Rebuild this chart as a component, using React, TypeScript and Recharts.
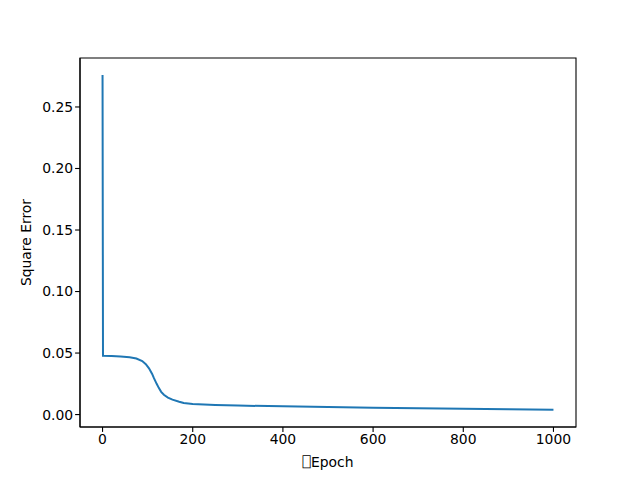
import React from 'react';
import { LineChart, Line, XAxis, YAxis, ReferenceArea } from 'recharts';

const epochs = [0, 1, 20, 40, 60, 75, 88, 96, 103, 110, 114, 120, 125, 130, 136, 145, 155, 170, 180, 200, 225, 250, 300, 400, 500, 600, 700, 800, 900, 1000];
const errors = [0.276, 0.0478, 0.0476, 0.0471, 0.0465, 0.0455, 0.0435, 0.041, 0.0376, 0.033, 0.0296, 0.025, 0.0215, 0.0185, 0.0161, 0.0138, 0.0121, 0.0104, 0.0094, 0.0086, 0.0081, 0.0077, 0.0073, 0.0067, 0.0062, 0.0056, 0.0051, 0.0047, 0.0043, 0.004];
const xTicks = [0, 200, 400, 600, 800, 1000];
const yTicks = [0, 0.05, 0.1, 0.15, 0.2, 0.25];
const xLabelMark = '\u2395';
const xLabel = 'Epoch';
const yLabel = 'Square Error';

const data = epochs.map((e, i) => ({ epoch: e, err: errors[i] }));

const FONT = 'DejaVu Sans, sans-serif';
const FS = 13.9;
const X_DOMAIN: [number, number] = [-50, 1050];
const Y_DOMAIN: [number, number] = [-0.0101, 0.2898];

const XLab = (props: any) => {
  const vb = props.viewBox || {};
  return (
    <text x={vb.x + vb.width / 2} y={467} textAnchor="middle" fontFamily={FONT} fontSize={FS} fill="#000">
      <tspan fontFamily="DejaVu Sans Mono" fill="#000">{xLabelMark}</tspan>
      <tspan>{xLabel}</tspan>
    </text>
  );
};

const YLab = (props: any) => {
  const vb = props.viewBox || {};
  const cy = vb.y + vb.height / 2;
  return (
    <text x={31} y={cy} transform={`rotate(-90 31 ${cy})`} textAnchor="middle" fontFamily={FONT} fontSize={FS} fill="#000">
      {yLabel}
    </text>
  );
};

export default function App() {
  return (
    <div style={{ position: 'absolute', left: 0, top: 0, width: 640, height: 480, background: '#fff' }}>
      <LineChart width={640} height={480} data={data} margin={{ top: 58, right: 64, bottom: 0, left: 0 }}>
        <XAxis
          dataKey="epoch"
          type="number"
          domain={X_DOMAIN}
          ticks={xTicks}
          height={53}
          tickSize={4.9}
          tickMargin={2}
          axisLine={{ stroke: '#000', strokeWidth: 1.1 }}
          tickLine={{ stroke: '#000', strokeWidth: 1.1 }}
          tick={{ fill: '#000', fontFamily: FONT, fontSize: FS }}
          allowDataOverflow
          label={<XLab />}
        />
        <YAxis
          type="number"
          domain={Y_DOMAIN}
          ticks={yTicks}
          width={80}
          tickSize={4.9}
          tickMargin={2}
          axisLine={{ stroke: '#000', strokeWidth: 1.1 }}
          tickLine={{ stroke: '#000', strokeWidth: 1.1 }}
          tick={{ fill: '#000', fontFamily: FONT, fontSize: FS }}
          tickFormatter={(v: number) => v.toFixed(2)}
          allowDataOverflow
          label={<YLab />}
        />
        <ReferenceArea
          x1={X_DOMAIN[0]}
          x2={X_DOMAIN[1]}
          y1={Y_DOMAIN[0]}
          y2={Y_DOMAIN[1]}
          fill="none"
          fillOpacity={0}
          stroke="#000"
          strokeWidth={1.1}
          ifOverflow="visible"
        />
        <Line
          type="linear"
          dataKey="err"
          stroke="#1f77b4"
          strokeWidth={2}
          dot={false}
          isAnimationActive={false}
        />
      </LineChart>
    </div>
  );
}
